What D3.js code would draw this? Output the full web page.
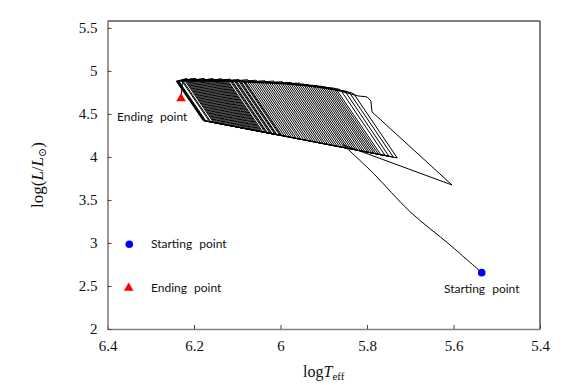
<!DOCTYPE html>
<html><head><meta charset="utf-8">
<script src="https://cdn.jsdelivr.net/npm/d3@7"></script>
<style>body{margin:0;background:#fff}svg{display:block}</style>
</head><body>
<svg id="c" width="572" height="385"></svg>
<script>
// ---- data ----
const xTicks = [6.4, 6.2, 6.0, 5.8, 5.6, 5.4];
const xTickLabels = ["6.4", "6.2", "6", "5.8", "5.6", "5.4"];
const yTicks = [2, 2.5, 3, 3.5, 4, 4.5, 5, 5.5];
const yTickLabels = ["2", "2.5", "3", "3.5", "4", "4.5", "5", "5.5"];

// first ascent from the starting point (logTeff, logL)
const startT = [5.5348, 5.608, 5.7006, 5.7854, 5.855];
const startL = [2.655, 2.977, 3.364, 3.810, 4.140];
// first, widest loop
const bigLoopT = [5.6035, 5.7884, 5.791, 5.800, 5.8208];
const bigLoopL = [3.674, 4.523, 4.651, 4.698, 4.709];

// successive loops: top-left, bottom-left, tip, top, hook
const loopLeftTop = [[5.875,4.782],[5.885,4.789],[5.895,4.797],[5.905,4.803],[5.915,4.809],[5.925,4.815],[5.935,4.821],[5.945,4.827],[5.955,4.832],[5.965,4.836],[5.975,4.840],[5.985,4.844],[5.995,4.848],[6.005,4.851],[6.015,4.853],[6.025,4.855],[6.035,4.857],[6.045,4.859],[6.055,4.861],[6.065,4.863],[6.075,4.865],[6.085,4.867],[6.095,4.869],[6.105,4.871],[6.115,4.873],[6.125,4.875],[6.135,4.877],[6.145,4.879],[6.155,4.880],[6.165,4.880],[6.175,4.880],[6.185,4.880],[6.195,4.880],[6.205,4.880],[6.215,4.880],[6.225,4.880],[6.235,4.880],[6.238,4.880],[6.240,4.880],[6.236,4.880]];
const loopLeftBottom = [[5.7735,4.031],[5.7838,4.041],[5.7942,4.051],[5.8047,4.061],[5.8152,4.071],[5.8258,4.081],[5.8364,4.092],[5.8470,4.102],[5.8577,4.113],[5.8686,4.123],[5.8795,4.134],[5.8904,4.144],[5.9013,4.155],[5.9123,4.166],[5.9235,4.177],[5.9347,4.187],[5.9459,4.198],[5.9571,4.209],[5.9683,4.220],[5.9795,4.231],[5.9907,4.242],[6.0019,4.253],[6.0131,4.263],[6.0243,4.274],[6.0355,4.285],[6.0467,4.296],[6.0579,4.307],[6.0691,4.318],[6.0805,4.329],[6.0920,4.340],[6.1035,4.351],[6.1150,4.362],[6.1265,4.373],[6.1380,4.385],[6.1495,4.396],[6.1610,4.407],[6.1725,4.418],[6.1760,4.420],[6.1782,4.423],[6.1750,4.419]];
const loopTip = [[5.730,3.988],[5.739,3.997],[5.749,4.006],[5.758,4.016],[5.768,4.026],[5.779,4.036],[5.789,4.046],[5.799,4.056],[5.810,4.066],[5.821,4.076],[5.831,4.086],[5.842,4.097],[5.852,4.107],[5.863,4.118],[5.874,4.128],[5.885,4.139],[5.896,4.149],[5.907,4.160],[5.918,4.171],[5.929,4.182],[5.940,4.192],[5.952,4.203],[5.963,4.214],[5.974,4.225],[5.985,4.236],[5.996,4.247],[6.008,4.258],[6.019,4.268],[6.030,4.279],[6.041,4.290],[6.052,4.301],[6.064,4.312],[6.075,4.323],[6.086,4.334],[6.098,4.345],[6.109,4.356],[6.121,4.367],[6.132,4.379],[6.144,4.390],[6.155,4.401]];
const loopTop = [[5.83,4.730],[5.84,4.743],[5.85,4.757],[5.86,4.770],[5.87,4.778],[5.88,4.785],[5.89,4.793],[5.90,4.800],[5.91,4.806],[5.92,4.812],[5.93,4.818],[5.94,4.824],[5.95,4.830],[5.96,4.834],[5.97,4.838],[5.98,4.842],[5.99,4.846],[6.00,4.850],[6.01,4.852],[6.02,4.854],[6.03,4.856],[6.04,4.858],[6.05,4.860],[6.06,4.862],[6.07,4.864],[6.08,4.866],[6.09,4.868],[6.10,4.870],[6.11,4.872],[6.12,4.874],[6.13,4.876],[6.14,4.878],[6.15,4.880],[6.16,4.880],[6.17,4.880],[6.18,4.880],[6.19,4.880],[6.20,4.880],[6.21,4.880],[6.22,4.880]];
const loopHook = [[5.836,4.746],[5.846,4.762],[5.856,4.770],[5.866,4.790],[5.876,4.800],[5.886,4.805],[5.896,4.815],[5.906,4.822],[5.916,4.830],[5.926,4.832],[5.936,4.842],[5.946,4.846],[5.956,4.858],[5.966,4.852],[5.976,4.866],[5.986,4.860],[5.996,4.874],[6.006,4.868],[6.016,4.882],[6.026,4.872],[6.036,4.886],[6.046,4.878],[6.056,4.892],[6.066,4.884],[6.076,4.898],[6.086,4.888],[6.096,4.900],[6.106,4.892],[6.116,4.905],[6.126,4.896],[6.136,4.908],[6.146,4.898],[6.156,4.910],[6.166,4.900],[6.176,4.912],[6.186,4.902],[6.196,4.914],[6.206,4.904],[6.216,4.912],[6.226,4.905]];

// late, tightly packed loops (interleaved after loop 25 + j)
const lateLeftTop = [[6.1275,4.876],[6.1375,4.878],[6.1475,4.880],[6.1575,4.880],[6.1675,4.880],[6.1775,4.880],[6.1875,4.880],[6.1975,4.880],[6.2075,4.880],[6.2175,4.880],[6.2275,4.880],[6.2375,4.880],[6.239,4.880],[6.241,4.880]];
const lateLeftBottom = [[6.0494,4.298],[6.0606,4.309],[6.0718,4.320],[6.0833,4.331],[6.0948,4.342],[6.1063,4.353],[6.1178,4.365],[6.1293,4.376],[6.1408,4.387],[6.1523,4.398],[6.1638,4.409],[6.1754,4.420],[6.1768,4.422],[6.1790,4.424]];
const lateTip = [[5.9990,4.249],[6.0102,4.260],[6.0214,4.271],[6.0326,4.282],[6.0438,4.293],[6.0550,4.304],[6.0662,4.314],[6.0775,4.326],[6.0890,4.337],[6.1005,4.348],[6.1120,4.359],[6.1236,4.370],[6.1351,4.381],[6.1466,4.392]];
const lateTop = [[6.0825,4.867],[6.0925,4.869],[6.1025,4.871],[6.1125,4.873],[6.1225,4.875],[6.1325,4.877],[6.1425,4.879],[6.1525,4.880],[6.1625,4.880],[6.1725,4.880],[6.1825,4.880],[6.1925,4.880],[6.2025,4.880],[6.2125,4.880]];
const lateHook = [[6.0885,4.884],[6.0985,4.892],[6.1085,4.886],[6.1185,4.898],[6.1285,4.890],[6.1385,4.903],[6.1485,4.894],[6.1585,4.906],[6.1685,4.897],[6.1785,4.908],[6.1885,4.899],[6.1985,4.910],[6.2085,4.900],[6.2185,4.906]];

const startPoint = [5.5348, 2.655];
const endPoint = [6.230, 4.680];

// ---- assemble the loop track ----
const track = [[startT[startT.length - 1], startL[startL.length - 1]]];
bigLoopT.forEach((t, i) => track.push([t, bigLoopL[i]]));
for (let k = 0; k < loopTop.length; k++) {
  track.push(loopLeftTop[k], loopLeftBottom[k], loopTip[k], loopTop[k], loopHook[k]);
  const j = k - 25;
  if (j >= 0 && j < lateTop.length) {
    track.push(lateLeftTop[j], lateLeftBottom[j], lateTip[j], lateTop[j], lateHook[j]);
  }
}
track.push(endPoint);

// ---- drawing ----
const svg = d3.select("#c");
const L = 107.5, R = 540, T = 21, B = 329;
const x = d3.scaleLinear().domain([6.4, 5.4]).range([L, R]);
const y = d3.scaleLinear().domain([2, 5.58]).range([B, T]);
const serif = "'Liberation Serif', 'DejaVu Serif', serif";
const sans = "Lato, 'DejaVu Sans', sans-serif";

// frame (top and right, black)
svg.append("path").attr("d", `M${L},${T}H${R}V${B}`).attr("fill", "none")
  .attr("stroke", "#000").attr("stroke-width", 1);

// axes
const gx = svg.append("g").attr("transform", `translate(0,${B})`)
  .call(d3.axisBottom(x).tickValues(xTicks).tickFormat((d, i) => xTickLabels[i])
    .tickSizeInner(-4).tickSizeOuter(0).tickPadding(11));
const gy = svg.append("g").attr("transform", `translate(${L},0)`)
  .call(d3.axisLeft(y).tickValues(yTicks).tickFormat((d, i) => yTickLabels[i])
    .tickSizeInner(-4).tickSizeOuter(0).tickPadding(10));
[gx, gy].forEach(g => {
  g.select(".domain").attr("stroke", "#808080").attr("stroke-width", 1.6);
  g.selectAll(".tick line").attr("stroke", "#444").attr("stroke-width", 1);
  g.selectAll(".tick text").attr("font-family", serif).attr("font-size", 15).attr("fill", "#111");
});

// start ascent (smooth) and loop track
svg.append("path").datum(startT.map((t, i) => [t, startL[i]]))
  .attr("d", d3.line().x(d => x(d[0])).y(d => y(d[1])).curve(d3.curveCatmullRom))
  .attr("fill", "none").attr("stroke", "#000").attr("stroke-width", 1);
svg.append("path").datum(track)
  .attr("d", d3.line().x(d => x(d[0])).y(d => y(d[1])))
  .attr("fill", "none").attr("stroke", "#000").attr("stroke-width", 1)
  .attr("stroke-linejoin", "round");

// markers
svg.append("circle").attr("cx", x(startPoint[0])).attr("cy", y(startPoint[1])).attr("r", 3.8).attr("fill", "#0000ff");
svg.append("path").attr("d", d3.symbol(d3.symbolTriangle, 40)())
  .attr("transform", `translate(${x(endPoint[0])},${y(endPoint[1])})`).attr("fill", "#ff0000");

// annotations
svg.append("text").attr("x", 117).attr("y", 121).attr("font-family", sans).attr("font-size", 12)
  .attr("word-spacing", 4).attr("fill", "#111").text("Ending point");
svg.append("text").attr("x", x(startPoint[0])).attr("y", 293).attr("text-anchor", "middle")
  .attr("font-family", sans).attr("font-size", 12).attr("word-spacing", 4).attr("fill", "#111").text("Starting point");

// legend
svg.append("circle").attr("cx", 129.3).attr("cy", 244.3).attr("r", 3.8).attr("fill", "#0000ff");
svg.append("text").attr("x", 151).attr("y", 248).attr("font-family", sans).attr("font-size", 12)
  .attr("word-spacing", 4).attr("fill", "#111").text("Starting point");
svg.append("path").attr("d", d3.symbol(d3.symbolTriangle, 40)())
  .attr("transform", "translate(128.7,288)").attr("fill", "#ff0000");
svg.append("text").attr("x", 151).attr("y", 292).attr("font-family", sans).attr("font-size", 12)
  .attr("word-spacing", 4).attr("fill", "#111").text("Ending point");

// axis titles
const xt = svg.append("text").attr("x", (L + R) / 2).attr("y", 377).attr("text-anchor", "middle")
  .attr("font-family", serif).attr("font-size", 16).attr("fill", "#111");
xt.append("tspan").text("log");
xt.append("tspan").attr("font-style", "italic").text("T");
xt.append("tspan").attr("font-size", 11).attr("dy", 3).text("eff");

const yt = svg.append("text").attr("transform", `translate(43,${(T + B) / 2}) rotate(-90)`)
  .attr("text-anchor", "middle").attr("font-family", serif).attr("font-size", 17).attr("fill", "#111");
yt.append("tspan").text("log(");
yt.append("tspan").attr("font-style", "italic").text("L");
yt.append("tspan").text("/");
yt.append("tspan").attr("font-style", "italic").text("L");
yt.append("tspan").attr("font-size", 11).attr("dy", 3).text("⊙");
yt.append("tspan").attr("dy", -3).text(")");
</script>
</body></html>
